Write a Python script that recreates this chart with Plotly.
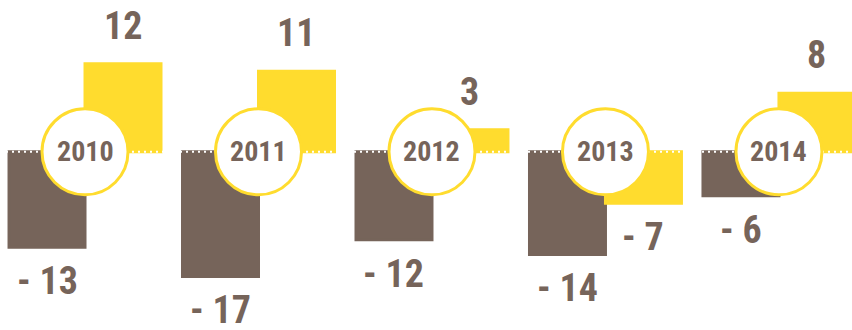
import plotly.graph_objects as go

# Yearly values: two series per year
years = ["2010", "2011", "2012", "2013", "2014"]
series_a = [-13, -17, -12, -14, -6]
series_b = [12, 11, 3, -7, 8]

BROWN = "#76645A"
YELLOW = "#FFDC2E"
FONT = "Roboto Condensed, sans-serif"

half = 0.219  # horizontal offset of each bar from the year centre
width = 0.438

xs = list(range(len(years)))
xa = [x - half for x in xs]
xb = [x + half for x in xs]

fig = go.Figure()
fig.add_trace(go.Bar(x=xa, y=series_a, width=width, marker=dict(color=BROWN, line=dict(color=BROWN, width=3)),
                     hoverinfo="skip", showlegend=False))
fig.add_trace(go.Bar(x=xb, y=series_b, width=width, marker=dict(color=YELLOW, line=dict(color=YELLOW, width=3)),
                     hoverinfo="skip", showlegend=False))


def label(v):
    return f"- {abs(v)}" if v < 0 else str(v)


annotations = []
for xpos, vals in ((xa, series_a), (xb, series_b)):
    for x, v in zip(xpos, vals):
        annotations.append(dict(
            x=x, y=v, text=f"<b>{label(v)}</b>", showarrow=False,
            yanchor="bottom" if v >= 0 else "top",
            yshift=14 if v >= 0 else -10,
            font=dict(family=FONT, size=38, color=BROWN),
        ))

shapes = [dict(type="line", xref="paper", x0=0, x1=1, yref="y", y0=0, y1=0,
               line=dict(color="white", width=2, dash="2px,4px"), layer="above")]
for x, yr in zip(xs, years):
    shapes.append(dict(type="circle", xref="x", yref="y", xsizemode="pixel", ysizemode="pixel",
                       xanchor=x, yanchor=0, x0=-43, x1=43, y0=-43, y1=43,
                       fillcolor="white", line=dict(color=YELLOW, width=3), layer="above"))
    annotations.append(dict(x=x, y=0, text=f"<b>{yr}</b>", showarrow=False,
                            font=dict(family=FONT, size=28, color=BROWN)))

fig.update_layout(
    width=852, height=330,
    margin=dict(l=0, r=0, t=0, b=0),
    paper_bgcolor="white", plot_bgcolor="white",
    barmode="overlay",
    xaxis=dict(range=[-0.49, 4.421], visible=False, fixedrange=True),
    yaxis=dict(range=[-24.3, 20.7], visible=False, fixedrange=True),
    shapes=shapes, annotations=annotations,
)

fig.write_html("out.html")
